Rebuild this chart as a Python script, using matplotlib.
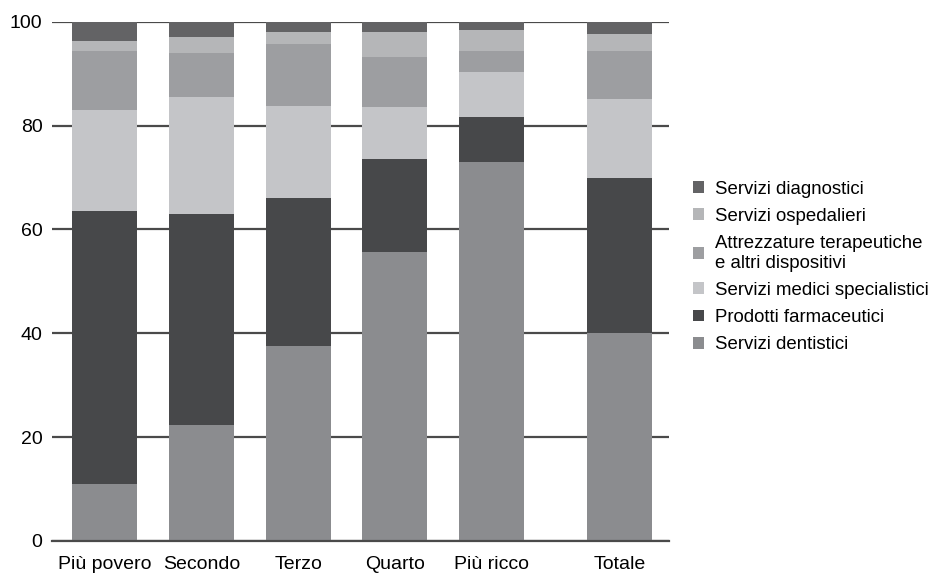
import matplotlib.pyplot as plt
import numpy as np

plt.rcParams['font.family'] = ['Liberation Sans', 'DejaVu Sans']

groups = ['Più povero', 'Secondo', 'Terzo', 'Quarto', 'Più ricco', 'Totale']
positions = [0, 1, 2, 3, 4, 5.32]

# quote percentuali per quintile (dal basso verso l'alto)
dentistici = [11.0, 22.4, 37.6, 55.7, 73.0, 40.1]
farmaceutici = [52.6, 40.6, 28.5, 17.9, 8.7, 29.9]
specialistici = [19.4, 22.5, 17.7, 10.0, 8.7, 15.2]
attrezzature = [11.4, 8.5, 12.0, 9.7, 4.0, 9.2]
ospedalieri = [1.9, 3.1, 2.3, 4.8, 4.1, 3.3]
diagnostici = [3.7, 2.9, 1.9, 1.9, 1.5, 2.3]

series = [
    ('Servizi dentistici', dentistici, '#8b8c8f'),
    ('Prodotti farmaceutici', farmaceutici, '#47484a'),
    ('Servizi medici specialistici', specialistici, '#c4c5c8'),
    ('Attrezzature terapeutiche\ne altri dispositivi', attrezzature, '#9d9ea1'),
    ('Servizi ospedalieri', ospedalieri, '#b5b6b8'),
    ('Servizi diagnostici', diagnostici, '#636365'),
]

fig = plt.figure(figsize=(9.5, 5.74), dpi=100)
ax = fig.add_axes([0.055, 0.0575, 0.649, 0.9045])

bottom = np.zeros(len(groups))
handles = []
for name, vals, col in series:
    b = ax.bar(positions, vals, width=0.67, bottom=bottom, color=col, label=name, zorder=2)
    handles.append(b)
    bottom += np.array(vals)

ax.set_ylim(0, 100)
ax.set_xlim(-0.54, 5.83)
ax.set_yticks([0, 20, 40, 60, 80, 100])
ax.yaxis.grid(True, color='#4a4a4a', linewidth=1.6, zorder=0)
ax.set_axisbelow(True)
for s in ['top', 'right', 'left']:
    ax.spines[s].set_visible(False)
ax.spines['bottom'].set_color('#4a4a4a')
ax.spines['bottom'].set_linewidth(1.6)
ax.tick_params(axis='both', length=0, labelsize=14, colors='black')
ax.tick_params(axis='y', pad=7)
ax.tick_params(axis='x', pad=11)
ax.set_xticks(positions)
ax.set_xticklabels(groups)

leg = fig.legend(handles[::-1], [s[0] for s in series][::-1],
                 loc='center left', bbox_to_anchor=(0.712, 0.535),
                 frameon=False, fontsize=13.4, handlelength=0.6, handleheight=0.6,
                 handletextpad=0.6, labelspacing=0.55)

fig.savefig('out.png', dpi=100)
